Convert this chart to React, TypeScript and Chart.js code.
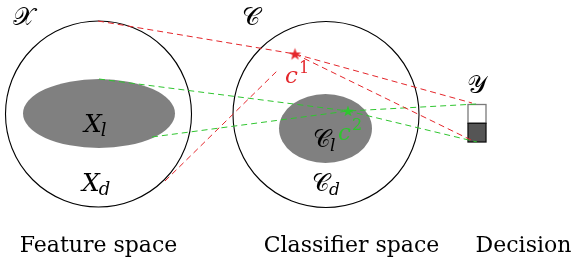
import React, { useEffect, useRef } from 'react';
import { Chart, registerables } from 'chart.js';
Chart.register(...registerables);

const W = 574;
const H = 263;

// Spaces (large circles)
const spaceX = [98.5, 326];
const spaceY = [114, 114.5];
const spaceR = [93, 93];

// Sub-regions (grey ellipses)
const regionX = [99, 325.5];
const regionY = [113.5, 128.5];
const regionRx = [76, 46.5];
const regionRy = [34.5, 34.5];

// Classifier points c1, c2
const classifierX = [295, 348];
const classifierY = [54, 111];

// Mapping paths (dashed)
const redPath1 = [{ x: 98, y: 21 }, { x: 295, y: 54 }, { x: 472, y: 103 }];
const redPath2 = [{ x: 165, y: 181 }, { x: 278, y: 70 }];
const redPath3 = [{ x: 295, y: 54 }, { x: 471, y: 140 }];
const greenPath1 = [{ x: 99, y: 79 }, { x: 348, y: 111 }, { x: 477, y: 142 }];
const greenPath2 = [{ x: 152, y: 137 }, { x: 348, y: 111 }, { x: 477, y: 104 }];

// Decision box
const decisionX = [468, 486];
const decisionY = [104.5, 123.3, 142];

// Captions
const captions = ['Feature space', 'Classifier space', 'Decision'];
const captionX = [98.5, 351.5, 523.5];
const captionY = 252;

const RED = '#e4262b';
const GREEN = '#2fc52f';
const SERIF = '"DejaVu Serif"';

function makeStar(color: string, R: number) {
  const c = document.createElement('canvas');
  const s = Math.ceil(R * 2 + 2);
  c.width = s;
  c.height = s;
  const g = c.getContext('2d')!;
  g.fillStyle = color;
  g.beginPath();
  const cx = s / 2, cy = s / 2 + R * 0.08;
  for (let i = 0; i < 10; i++) {
    const rr = i % 2 === 0 ? R : R * 0.4;
    const a = -Math.PI / 2 + (i * Math.PI) / 5;
    const px = cx + rr * Math.cos(a);
    const py = cy + rr * Math.sin(a);
    if (i === 0) g.moveTo(px, py); else g.lineTo(px, py);
  }
  g.closePath();
  g.fill();
  return c;
}

type MathLabel = { base: string; x: number; y: number; size: number; color: string; sub?: string; sup?: string; script?: boolean };

const mathLabels: MathLabel[] = [
  { base: '𝒳', x: 13, y: 25, size: 25, color: '#000', script: true },
  { base: '𝒞', x: 242, y: 25, size: 25, color: '#000', script: true },
  { base: '𝒴', x: 467, y: 93, size: 25, color: '#000', script: true },
  { base: 'X', x: 84, y: 132, size: 25, color: '#000', sub: 'l' },
  { base: 'X', x: 82, y: 191, size: 25, color: '#000', sub: 'd' },
  { base: '𝒞', x: 313, y: 147, size: 24, color: '#000', sub: 'l', script: true },
  { base: '𝒞', x: 312, y: 191, size: 24, color: '#000', sub: 'd', script: true },
  { base: 'c', x: 285, y: 83, size: 23, color: RED, sup: '1' },
  { base: 'c', x: 338, y: 140, size: 23, color: GREEN, sup: '2' },
];

const diagramPlugin = {
  id: 'diagram',
  beforeDatasetsDraw(chart: any) {
    const ctx = chart.ctx as CanvasRenderingContext2D;
    const xs = chart.scales.x;
    const ys = chart.scales.y;
    ctx.save();
    ctx.fillStyle = '#808080';
    for (let i = 0; i < regionX.length; i++) {
      const cx = xs.getPixelForValue(regionX[i]);
      const cy = ys.getPixelForValue(regionY[i]);
      const rx = xs.getPixelForValue(regionX[i] + regionRx[i]) - cx;
      const ry = ys.getPixelForValue(regionY[i] + regionRy[i]) - cy;
      ctx.beginPath();
      ctx.ellipse(cx, cy, Math.abs(rx), Math.abs(ry), 0, 0, Math.PI * 2);
      ctx.fill();
    }
    // decision box
    const x0 = xs.getPixelForValue(decisionX[0]);
    const x1 = xs.getPixelForValue(decisionX[1]);
    const y0 = ys.getPixelForValue(decisionY[0]);
    const y1 = ys.getPixelForValue(decisionY[1]);
    const y2 = ys.getPixelForValue(decisionY[2]);
    ctx.fillStyle = '#ffffff';
    ctx.fillRect(x0, y0, x1 - x0, y1 - y0);
    ctx.strokeStyle = '#7a7a7a';
    ctx.lineWidth = 1.3;
    ctx.strokeRect(x0, y0, x1 - x0, y1 - y0);
    ctx.fillStyle = '#555555';
    ctx.fillRect(x0, y1, x1 - x0, y2 - y1);
    ctx.strokeStyle = '#111111';
    ctx.strokeRect(x0, y1, x1 - x0, y2 - y1);
    ctx.restore();
  },
  afterDatasetsDraw(chart: any) {
    const ctx = chart.ctx as CanvasRenderingContext2D;
    const xs = chart.scales.x;
    const ys = chart.scales.y;
    ctx.save();
    ctx.textBaseline = 'alphabetic';
    ctx.fillStyle = '#000';
    ctx.textAlign = 'center';
    ctx.font = `22px ${SERIF}`;
    captions.forEach((t, i) => {
      ctx.fillText(t, xs.getPixelForValue(captionX[i]), ys.getPixelForValue(captionY));
    });
    ctx.textAlign = 'left';
    for (const m of mathLabels) {
      const px = xs.getPixelForValue(m.x);
      const py = ys.getPixelForValue(m.y);
      ctx.fillStyle = m.color;
      ctx.font = m.script ? `${m.size}px ${SERIF}` : `italic ${m.size}px ${SERIF}`;
      ctx.fillText(m.base, px, py);
      const w = ctx.measureText(m.base).width;
      if (m.sub) {
        ctx.font = `italic ${Math.round(m.size * 0.7)}px ${SERIF}`;
        ctx.fillText(m.sub, px + w - 1, py + 4);
      }
      if (m.sup) {
        ctx.font = `${Math.round(m.size * 0.68)}px ${SERIF}`;
        ctx.fillText(m.sup, px + w + 1, py - 10);
      }
    }
    ctx.restore();
  },
};

export default function App() {
  const ref = useRef<HTMLCanvasElement>(null);
  useEffect(() => {
    document.body.style.margin = '0';
    const canvas = ref.current!;
    const lineDs = (data: any[], color: string) => ({
      type: 'scatter' as const,
      data,
      showLine: true,
      borderColor: color,
      borderWidth: 1,
      borderDash: [6, 4],
      pointRadius: 0,
      fill: false,
      tension: 0,
      clip: false,
    });
    const chart = new Chart(canvas, {
      type: 'scatter',
      data: {
        datasets: [
          {
            type: 'scatter',
            data: [{ x: classifierX[0], y: classifierY[0] }],
            pointStyle: makeStar(RED, 6.5) as any,
            pointRadius: 6,
          } as any,
          {
            type: 'scatter',
            data: [{ x: classifierX[1], y: classifierY[1] }],
            pointStyle: makeStar(GREEN, 6) as any,
            pointRadius: 6,
          } as any,
          lineDs(redPath1, RED),
          lineDs(redPath2, RED),
          lineDs(redPath3, RED),
          lineDs(greenPath1, GREEN),
          lineDs(greenPath2, GREEN),
          {
            type: 'bubble',
            data: spaceX.map((x, i) => ({ x, y: spaceY[i], r: spaceR[i] })),
            backgroundColor: 'rgba(0,0,0,0)',
            borderColor: '#000000',
            borderWidth: 1.1,
            clip: false,
          } as any,
        ],
      },
      options: {
        animation: false,
        responsive: false,
        events: [],
        layout: { padding: 0, autoPadding: false },
        plugins: { legend: { display: false }, tooltip: { enabled: false } },
        scales: {
          x: { type: 'linear', min: 0, max: W, display: false },
          y: { type: 'linear', min: 0, max: H, reverse: true, display: false },
        },
      } as any,
      plugins: [diagramPlugin],
    });
    return () => { chart.destroy(); };
  }, []);
  return <canvas ref={ref} width={W} height={H} style={{ display: 'block' }} />;
}
